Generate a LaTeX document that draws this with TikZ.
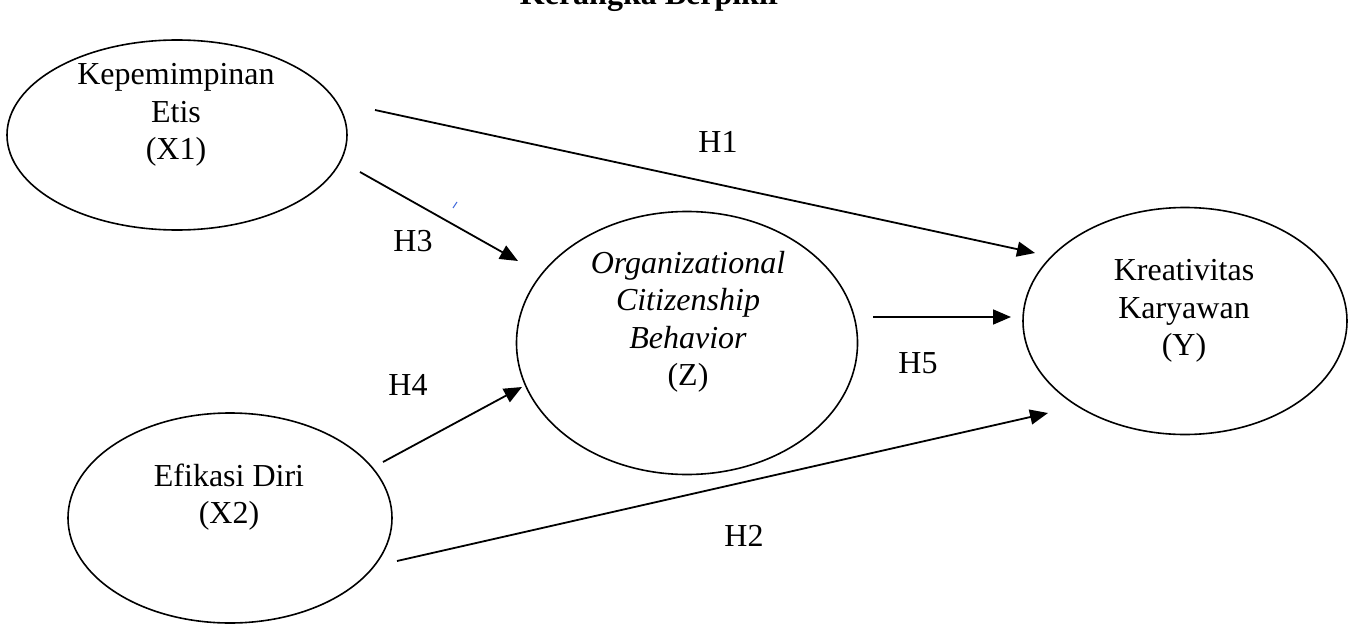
\documentclass[tikz,border=0pt]{standalone}
\usepackage{fontspec}
\setmainfont{Liberation Serif}
\usetikzlibrary{arrows.meta,shapes.geometric}
\begin{document}
\begin{tikzpicture}[x=1pt,y=-1pt,
  var/.style={draw,ellipse,line width=1.6pt,inner sep=0pt},
  txt/.style={align=center,font=\fontsize{32}{37.5}\selectfont,inner sep=0pt},
  lbl/.style={font=\fontsize{32}{37.5}\selectfont,inner sep=0pt},
  arr/.style={line width=1.8pt,-{Triangle[length=18pt,width=15pt]}}]
\useasboundingbox[fill=white] (0,0) rectangle (1354,626);
\begin{scope}
\clip (0,0) rectangle (1354,626);
\node[lbl,font=\fontsize{32}{37.5}\selectfont\bfseries,anchor=base] (title) at (651,5) {Kerangka Berpikir};
\end{scope}
% ellipses
\node[var,minimum width=340pt,minimum height=190pt] (x1) at (177,135) {};
\node[var,minimum width=324pt,minimum height=210pt] (x2) at (230,518) {};
\node[var,minimum width=341pt,minimum height=263pt] (z) at (687,343) {};
\node[var,minimum width=324pt,minimum height=227pt] (y) at (1185,321) {};
% texts
\node[txt] (x1t) at (176,115) {Kepemimpinan\\Etis\\(X1)};
\node[txt] (x2t) at (229,497) {Efikasi Diri\\(X2)};
\node[txt] (zt) at (688,322) {\itshape Organizational\\\itshape Citizenship\\\itshape Behavior\\(Z)};
\node[txt] (yt) at (1184,311) {Kreativitas\\Karyawan\\(Y)};
% connector ends
\coordinate (h1s) at (375,110);
\coordinate (h1e) at (1035,253);
\coordinate (h3s) at (360,172);
\coordinate (h3e) at (518,261);
\coordinate (h4s) at (383,462);
\coordinate (h4e) at (522,387);
\coordinate (h2s) at (397,561);
\coordinate (h2e) at (1048,413);
\coordinate (h5s) at (873,317);
\coordinate (h5e) at (1011,317);
\draw[arr] (h1s) -- (h1e);
\draw[arr] (h3s) -- (h3e);
\draw[arr] (h4s) -- (h4e);
\draw[arr] (h2s) -- (h2e);
\draw[arr] (h5s) -- (h5e);
% labels
\node[lbl] (H1) at (718,142) {H1};
\node[lbl] (H3) at (413,241) {H3};
\node[lbl] (H4) at (408,385) {H4};
\node[lbl] (H5) at (918,363) {H5};
\node[lbl] (H2) at (744,536) {H2};
% small blue tick
\coordinate (tk1) at (453,208);
\coordinate (tk2) at (457,202);
\draw[color={rgb,255:red,70;green,110;blue,220},line width=1pt] (tk1) -- (tk2);
\end{tikzpicture}
\end{document}
